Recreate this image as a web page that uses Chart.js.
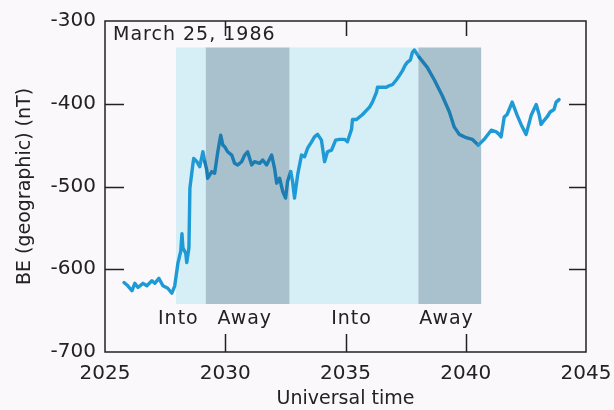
<!DOCTYPE html>
<html lang="en">
<head>
    <meta charset="UTF-8">
    <title>BE (geographic), March 25, 1986</title>
    <script src="https://cdn.jsdelivr.net/npm/chart.js@4/dist/chart.umd.min.js"></script>
    <style>
        html, body { margin: 0; padding: 0; background: #faf8fa; }
        #wrap { width: 614px; height: 410px; }
    </style>
</head>
<body>
    <div id="wrap"><canvas id="grafico"></canvas></div>
    <script>
        // Universal time (x) and BE in nT (y)
        const times = [
            2025.79, 2025.95, 2026.12, 2026.24, 2026.37, 2026.58, 2026.74, 2026.95, 2027.07, 2027.24,
            2027.41, 2027.61, 2027.78, 2027.90, 2028.03, 2028.15, 2028.20, 2028.24, 2028.36, 2028.40,
            2028.49, 2028.53, 2028.65, 2028.69, 2028.82, 2028.94, 2029.07, 2029.15, 2029.23, 2029.27,
            2029.44, 2029.56, 2029.69, 2029.81, 2029.90, 2029.98, 2030.10, 2030.27, 2030.39, 2030.52,
            2030.68, 2030.81, 2030.93, 2031.10, 2031.22, 2031.43, 2031.56, 2031.72, 2031.93, 2032.05,
            2032.14, 2032.26, 2032.39, 2032.51, 2032.59, 2032.72, 2032.80, 2032.88, 2033.01, 2033.17,
            2033.30, 2033.42, 2033.59, 2033.71, 2033.84, 2034.00, 2034.13, 2034.25, 2034.42, 2034.59,
            2034.75, 2034.96, 2035.08, 2035.25, 2035.29, 2035.46, 2035.58, 2035.71, 2035.87, 2036.00,
            2036.12, 2036.29, 2036.33, 2036.54, 2036.70, 2036.83, 2036.95, 2037.12, 2037.24, 2037.37,
            2037.49, 2037.57, 2037.70, 2037.78, 2037.86, 2038.07, 2038.40, 2038.69, 2039.02, 2039.32,
            2039.52, 2039.73, 2040.02, 2040.27, 2040.52, 2040.77, 2041.06, 2041.27, 2041.39, 2041.47,
            2041.60, 2041.72, 2041.93, 2042.14, 2042.30, 2042.51, 2042.72, 2042.93, 2043.05, 2043.13,
            2043.26, 2043.38, 2043.51, 2043.67, 2043.76, 2043.88
        ];
        const values = [
            -616, -620, -626, -617, -622, -617, -620, -614, -617, -611,
            -620, -623, -629, -620, -593, -578, -557, -574, -581, -592,
            -574, -502, -474, -466, -470, -476, -458, -470, -480, -490,
            -482, -484, -458, -438, -450, -452, -458, -462, -472, -474,
            -470, -462, -458, -474, -470, -472, -468, -474, -462, -478,
            -496, -490, -506, -514, -494, -482, -494, -514, -486, -462,
            -464, -454, -446, -440, -437, -444, -470, -458, -456, -444,
            -443, -443, -446, -431, -419, -419, -416, -413, -408, -404,
            -398, -386, -380, -380, -380, -378, -377, -371, -366, -360,
            -353, -350, -347, -338, -335, -344, -356, -371, -390, -410,
            -428, -437, -441, -443, -450, -443, -432, -434, -437, -440,
            -416, -413, -398, -414, -425, -437, -414, -401, -413, -425,
            -420, -416, -410, -407, -398, -395
        ];

        // shaded intervals (Into / Away) and where their labels sit
        const bandStart = [2027.95, 2029.19, 2032.68, 2038.03];
        const bandEnd = [2029.19, 2032.68, 2038.03, 2040.64];
        const bandNames = ['Into', 'Away', 'Into', 'Away'];
        const bandLabelX = [2028.05, 2030.81, 2035.25, 2039.2];
        const bandTop = -332;
        const bandBottom = -642;
        const bandLabelY = -660;

        const xTicks = [2025, 2030, 2035, 2040, 2045];
        const yTicks = [-700, -600, -500, -400, -300];

        const fuente = 'DejaVu Sans';
        const tinta = '#222222';
        const azulClaro = '#d6eef6';
        const azulOscuro = '#a9c0cd';
        const linea = '#1e9ad6';
        const lineaOscura = '#1b7db2';

        function enAway(x) {
            for (let i = 0; i < bandStart.length; i++) {
                if (bandNames[i] === 'Away' && x >= bandStart[i] && x <= bandEnd[i]) return true;
            }
            return false;
        }

        const puntos = times.map((t, i) => ({ x: t, y: values[i] }));

        // bandas sombreadas, marco y marcas hacia dentro
        const figura = {
            id: 'figura',
            beforeDraw(chart) {
                const c = chart.ctx;
                c.save();
                c.fillStyle = '#faf8fa';
                c.fillRect(0, 0, chart.width, chart.height);
                c.restore();
            },
            beforeDatasetsDraw(chart) {
                const c = chart.ctx;
                const xs = chart.scales.x, ys = chart.scales.y;
                c.save();
                for (let i = 0; i < bandStart.length; i++) {
                    const x0 = xs.getPixelForValue(bandStart[i]);
                    const x1 = xs.getPixelForValue(bandEnd[i]);
                    const y0 = ys.getPixelForValue(bandTop);
                    const y1 = ys.getPixelForValue(bandBottom);
                    c.fillStyle = bandNames[i] === 'Away' ? azulOscuro : azulClaro;
                    c.fillRect(x0, y0, x1 - x0, y1 - y0);
                }
                c.restore();
            },
            afterDatasetsDraw(chart) {
                const c = chart.ctx;
                const a = chart.chartArea;
                const xs = chart.scales.x, ys = chart.scales.y;
                c.save();
                c.strokeStyle = tinta;
                c.lineWidth = 1.5;
                c.strokeRect(a.left, a.top, a.right - a.left, a.bottom - a.top);
                c.beginPath();
                xTicks.slice(1, -1).forEach(v => {
                    const px = Math.round(xs.getPixelForValue(v)) + 0.5;
                    c.moveTo(px, a.bottom); c.lineTo(px, a.bottom - 18);
                    c.moveTo(px, a.top); c.lineTo(px, a.top + 15);
                });
                yTicks.slice(1, -1).forEach(v => {
                    const py = Math.round(ys.getPixelForValue(v)) + 0.5;
                    c.moveTo(a.left, py); c.lineTo(a.left + 19, py);
                    c.moveTo(a.right, py); c.lineTo(a.right - 17, py);
                });
                c.stroke();

                c.fillStyle = tinta;
                c.font = '19px "' + fuente + '"';
                c.letterSpacing = '1px';
                c.textAlign = 'center';
                c.textBaseline = 'middle';
                for (let i = 0; i < bandNames.length; i++) {
                    c.fillText(bandNames[i], xs.getPixelForValue(bandLabelX[i]), ys.getPixelForValue(bandLabelY));
                }
                c.textAlign = 'left';
                c.fillText('March 25, 1986', a.left + 8, a.top + 14);
                c.restore();
            }
        };

        new Chart(document.getElementById('grafico'), {
            type: 'line',
            data: {
                datasets: [{
                    data: puntos,
                    borderColor: linea,
                    borderWidth: 3.4,
                    borderJoinStyle: 'round',
                    borderCapStyle: 'round',
                    pointRadius: 0,
                    tension: 0,
                    fill: false,
                    segment: {
                        borderColor: ctx => enAway((ctx.p0.parsed.x + ctx.p1.parsed.x) / 2) ? lineaOscura : linea
                    }
                }]
            },
            options: {
                responsive: true,
                maintainAspectRatio: false,
                animation: false,
                layout: { padding: { top: 18, right: 28, left: 0, bottom: 0 } },
                plugins: {
                    legend: { display: false },
                    tooltip: { enabled: false }
                },
                scales: {
                    x: {
                        type: 'linear',
                        min: 2025,
                        max: 2045,
                        afterFit: s => { s.height = 58; s.paddingLeft = 0; s.paddingRight = 0; },
                        afterBuildTicks: s => { s.ticks = xTicks.map(v => ({ value: v })); },
                        grid: { display: false, drawTicks: false },
                        border: { display: false },
                        ticks: {
                            padding: 10,
                            color: tinta,
                            font: { family: fuente, size: 20 },
                            callback: v => String(v)
                        },
                        title: {
                            display: true,
                            text: 'Universal time',
                            color: tinta,
                            font: { family: fuente, size: 19 },
                            padding: { top: 0, bottom: 0 }
                        }
                    },
                    y: {
                        min: -700,
                        max: -300,
                        afterFit: s => { s.width = 105; },
                        afterBuildTicks: s => { s.ticks = yTicks.map(v => ({ value: v })); },
                        grid: { display: false, drawTicks: false },
                        border: { display: false },
                        ticks: {
                            padding: 9,
                            color: tinta,
                            font: { family: fuente, size: 20 },
                            callback: v => String(v)
                        },
                        title: {
                            display: true,
                            text: 'BE (geographic) (nT)',
                            color: tinta,
                            font: { family: fuente, size: 19 },
                            padding: { top: 14, bottom: 0 }
                        }
                    }
                }
            },
            plugins: [figura]
        });
    </script>
</body>
</html>
